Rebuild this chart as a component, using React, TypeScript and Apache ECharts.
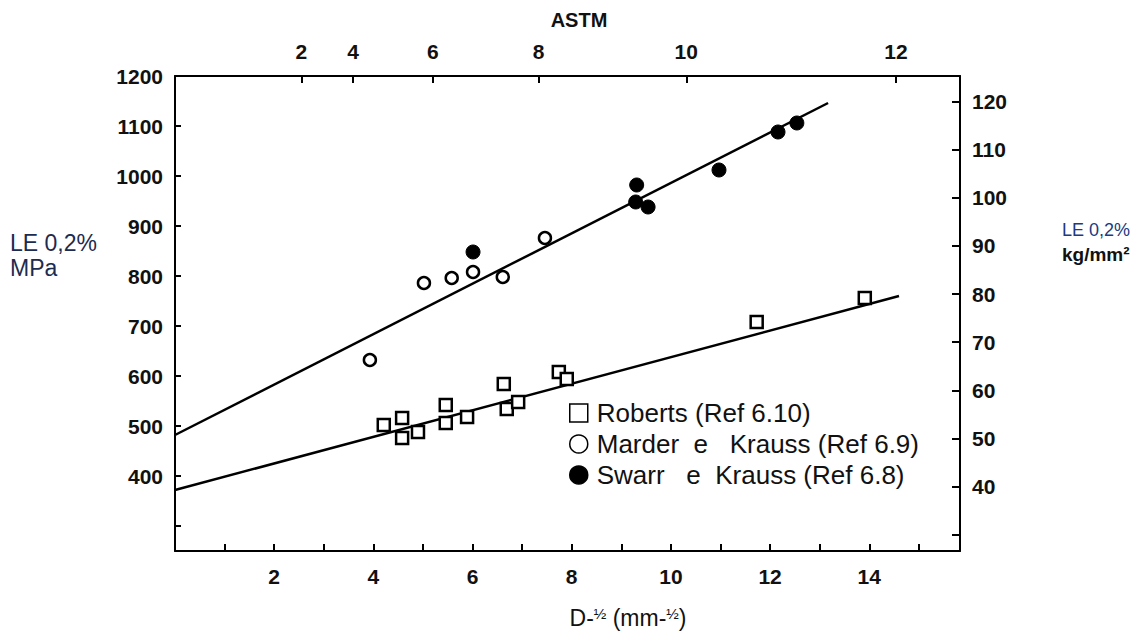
import { useEffect, useRef } from "react";
import * as echarts from "echarts";

const FONT = "'Liberation Sans', Arial, Helvetica, sans-serif";

// Roberts (Ref 6.10)
const robertsD = [4.21, 4.58, 4.58, 4.9, 5.46, 5.46, 5.89, 6.63, 6.69, 6.92, 7.74, 7.9, 11.73, 13.91];
const robertsLE = [502, 516, 476, 488, 542, 506, 518, 584, 534, 548, 608, 594, 708, 756];
// Marder e Krauss (Ref 6.9)
const marderD = [3.93, 5.02, 5.58, 6.01, 6.61, 7.46];
const marderLE = [632, 786, 796, 808, 798, 876];
// Swarr e Krauss (Ref 6.8)
const swarrD = [6.01, 9.31, 9.29, 9.54, 10.97, 12.16, 12.54];
const swarrLE = [848, 982, 948, 938, 1012, 1088, 1106];
// fitted lines
const fitUpperD = [0, 13.17];
const fitUpperLE = [482, 1146];
const fitLowerD = [0, 14.6];
const fitLowerLE = [372, 760];

// axes
const xTickValues = [1, 2, 3, 4, 5, 6, 7, 8, 9, 10, 11, 12, 13, 14, 15];
const xLabelValues = [2, 4, 6, 8, 10, 12, 14];
const astmNumbers = [2, 4, 6, 8, 10, 12];
const astmPositions = [2.55, 3.59, 5.2, 7.33, 10.31, 14.54];
const leTicks = [300, 400, 500, 600, 700, 800, 900, 1000, 1100, 1200];
const leLabels = [400, 500, 600, 700, 800, 900, 1000, 1100, 1200];
const kgTicks = [30, 40, 50, 60, 70, 80, 90, 100, 110, 120];
const kgLabels = [40, 50, 60, 70, 80, 90, 100, 110, 120];

const seriesNames = [
  "Roberts (Ref 6.10)",
  "Marder  e   Krauss (Ref 6.9)",
  "Swarr   e  Krauss (Ref 6.8)",
];

const zip = (a: number[], b: number[]) => a.map((v, i) => [v, b[i]]);

export default function App() {
  const ref = useRef<HTMLDivElement>(null);
  useEffect(() => {
    if (!ref.current) return;
    const chart = echarts.init(ref.current, null, { renderer: "svg" });
    const axisLine = { show: true, onZero: false, lineStyle: { color: "#000", width: 2 } };
    const tickStyle = { color: "#000", width: 2 };
    const labelStyle = { fontSize: 21, fontWeight: "bold" as const, color: "#111", fontFamily: FONT };
    const plain = (v: number) => String(v);
    const option: any = {
      animation: false,
      backgroundColor: "#ffffff",
      textStyle: { fontFamily: FONT },
      grid: { left: 175, right: 176, top: 76, bottom: 90, containLabel: false },
      legend: {
        orient: "vertical",
        left: 564,
        top: 395,
        itemWidth: 18,
        itemHeight: 18,
        itemGap: 5,
        textStyle: { fontSize: 26, color: "#111", fontFamily: FONT, padding: [0, 0, 0, 4] },
        itemStyle: { borderWidth: 1.5 },
        data: seriesNames,
      },
      xAxis: [
        {
          type: "value",
          position: "bottom",
          min: 0,
          max: 15.83,
          axisLine,
          axisTick: { show: true, inside: true, length: 7, customValues: xTickValues, lineStyle: tickStyle },
          axisLabel: { ...labelStyle, customValues: xLabelValues, margin: 15, formatter: plain },
          splitLine: { show: false },
        },
        {
          type: "value",
          position: "top",
          min: 0,
          max: 15.83,
          axisLine,
          axisTick: { show: true, inside: true, length: 7, customValues: astmPositions, lineStyle: tickStyle },
          axisLabel: {
            ...labelStyle,
            customValues: astmPositions,
            margin: 14,
            formatter: (v: number) => {
              const i = astmPositions.findIndex((p) => Math.abs(p - v) < 1e-6);
              return i >= 0 ? String(astmNumbers[i]) : "";
            },
          },
          splitLine: { show: false },
        },
      ],
      yAxis: [
        {
          type: "value",
          position: "left",
          min: 250,
          max: 1200,
          axisLine,
          axisTick: { show: true, inside: true, length: 6, customValues: leTicks, lineStyle: tickStyle },
          axisLabel: { ...labelStyle, customValues: leLabels, margin: 12, formatter: plain },
          splitLine: { show: false },
        },
        {
          type: "value",
          position: "right",
          min: 26.6,
          max: 125.3,
          axisLine,
          axisTick: { show: true, inside: true, length: 8, customValues: kgTicks, lineStyle: tickStyle },
          axisLabel: { ...labelStyle, customValues: kgLabels, margin: 12, formatter: plain },
          splitLine: { show: false },
        },
      ],
      graphic: [
        {
          type: "text",
          x: 579,
          y: 20,
          style: { text: "ASTM", font: `bold 20px ${FONT}`, fill: "#111", align: "center", verticalAlign: "middle" },
        },
        {
          type: "text",
          x: 628,
          y: 618,
          style: {
            text: "{a|D-}{s|½}{a| (mm-}{s|½}{a|)}",
            align: "center",
            verticalAlign: "middle",
            rich: {
              a: { fontSize: 23, fontFamily: FONT, fill: "#111", verticalAlign: "middle" },
              s: { fontSize: 15, fontFamily: FONT, fill: "#111", padding: [0, 0, 9, 0] },
            },
          },
        },
        {
          type: "text",
          x: 10,
          y: 243,
          style: { text: "LE 0,2%", font: `23px ${FONT}`, fill: "#1d2b50", verticalAlign: "middle" },
        },
        {
          type: "text",
          x: 10,
          y: 268,
          style: { text: "MPa", font: `23px ${FONT}`, fill: "#1d2b50", verticalAlign: "middle" },
        },
        {
          type: "text",
          x: 1062,
          y: 230,
          style: { text: "LE 0,2%", font: `18px ${FONT}`, fill: "#203a80", verticalAlign: "middle" },
        },
        {
          type: "text",
          x: 1062,
          y: 254,
          style: { text: "kg/mm²", font: `bold 19px ${FONT}`, fill: "#111", verticalAlign: "middle" },
        },
      ],
      series: [
        {
          name: "fit upper",
          type: "line",
          data: zip(fitUpperD, fitUpperLE),
          symbol: "none",
          silent: true,
          lineStyle: { color: "#000", width: 2.5 },
          z: 2,
        },
        {
          name: "fit lower",
          type: "line",
          data: zip(fitLowerD, fitLowerLE),
          symbol: "none",
          silent: true,
          lineStyle: { color: "#000", width: 2.5 },
          z: 2,
        },
        {
          name: seriesNames[0],
          type: "scatter",
          symbol: "rect",
          symbolSize: 12,
          data: zip(robertsD, robertsLE),
          itemStyle: { color: "#fff", borderColor: "#000", borderWidth: 2.5, opacity: 1 },
          z: 3,
        },
        {
          name: seriesNames[1],
          type: "scatter",
          symbol: "circle",
          symbolSize: 12,
          data: zip(marderD, marderLE),
          itemStyle: { color: "#fff", borderColor: "#000", borderWidth: 2.5, opacity: 1 },
          z: 3,
        },
        {
          name: seriesNames[2],
          type: "scatter",
          symbol: "circle",
          symbolSize: 14,
          data: zip(swarrD, swarrLE),
          itemStyle: { color: "#000", borderColor: "#000", borderWidth: 1, opacity: 1 },
          z: 3,
        },
      ],
    };
    chart.setOption(option);
    return () => chart.dispose();
  }, []);
  return (
    <div
      ref={ref}
      style={{ position: "fixed", left: 0, top: 0, width: 1136, height: 641, background: "#fff" }}
    />
  );
}
